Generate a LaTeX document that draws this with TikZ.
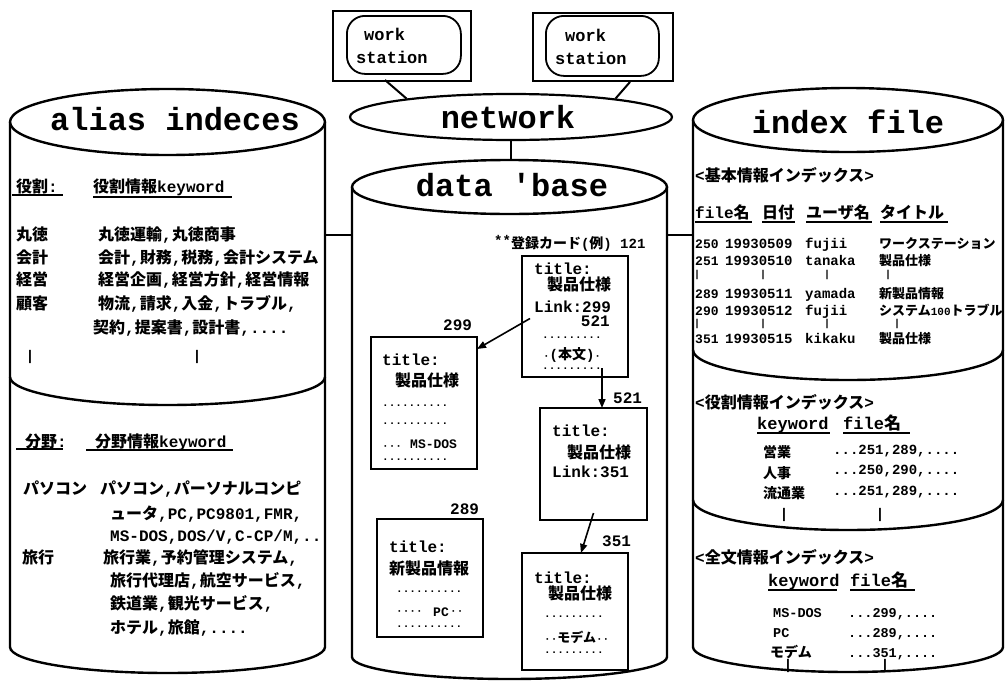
\documentclass[tikz,border=0pt]{standalone}
\usepackage{fontspec}
\setmainfont{Liberation Mono}
\newfontfamily\hdf{Liberation Mono}
\newfontfamily\jpf{Noto Sans CJK JP}
\newcommand\J[1]{{\jpf\bfseries #1}}
\newcommand\fs[1]{\fontsize{#1}{#1}\selectfont}
\usetikzlibrary{arrows.meta,calc,shapes.geometric}
\begin{document}
\begin{tikzpicture}[x=1pt,y=-1pt,
  cyl/.style={line width=2.4pt},
  ln/.style={line width=2pt},
  ul/.style={line width=1.5pt},
  card/.style={draw, line width=1.8pt, inner sep=0pt, outer sep=0pt, anchor=north west},
  arr/.style={line width=1.6pt, -{Triangle[length=9pt,width=7pt]}},
  tx/.style={anchor=base west, inner sep=0pt, yshift=-6pt, font=\fs{16}\bfseries},
  txe/.style={tx, anchor=base east},
  txc/.style={tx, anchor=base},
  sm/.style={anchor=base west, inner sep=0pt, yshift=-5pt, font=\fs{14}\bfseries},
  num/.style={sm, font=\fs{13}\bfseries},
  ttl/.style={sm, font=\fs{13}\bfseries},
  smc/.style={sm, font=\fs{13.5}\bfseries},
  hd/.style={tx, font=\fs{17}\bfseries},
  dt/.style={anchor=base west, inner sep=0pt, yshift=-1pt, text height=3pt, text depth=0pt, font=\fs{11}\bfseries},
  bar/.style={inner sep=0pt, font=\fs{14}\bfseries},
  sbar/.style={inner sep=0pt, font=\fs{10}\bfseries},
  big/.style={anchor=base, inner sep=0pt, font=\hdf\fs{32}\bfseries},
  ws/.style={anchor=base west, inner sep=0pt, font=\fs{17}\bfseries}
]
\useasboundingbox (0,0) rectangle (1005,683);

% ---------- workstations and network ----------
\node[draw, line width=1.8pt, minimum width=138pt, minimum height=70pt, anchor=north west, inner sep=0pt] (ws1) at (332,10) {};
\node[draw, line width=1.8pt, rounded corners=18pt, minimum width=114pt, minimum height=58pt, anchor=north west, inner sep=0pt] (ws1i) at (346,15) {};
\node[ws] (ws1a) at (364,40) {work};
\node[ws] (ws1b) at (356,63) {station};
\node[draw, line width=1.8pt, minimum width=140pt, minimum height=68pt, anchor=north west, inner sep=0pt] (ws2) at (532,12) {};
\node[draw, line width=1.8pt, rounded corners=18pt, minimum width=113pt, minimum height=60pt, anchor=north west, inner sep=0pt] (ws2i) at (545,15) {};
\node[ws] (ws2a) at (565,41) {work};
\node[ws] (ws2b) at (555,64) {station};

\node[draw, ellipse, line width=2.2pt, minimum width=322pt, minimum height=46pt, inner sep=0pt] (net) at (511,117) {};
\node[big] (netT) at (508,128) {network};
\coordinate (w1) at (385,80);
\coordinate (w2) at (630,82);
\draw[ln] (w1) -- (net.170);
\draw[ln] (w2) -- (net.10);

% ---------- left cylinder ----------
\draw[cyl] (167.5,122) ellipse[x radius=157.5, y radius=33];
\draw[cyl] (10,122) -- (10,647) arc[start angle=180, end angle=0, x radius=157.5, y radius=26] -- (325,122);
\draw[cyl] (10,377) arc[start angle=180, end angle=0, x radius=157.5, y radius=28];
\node[big] (hL) at (175,130) {alias indeces};

% ---------- middle cylinder ----------
\draw[cyl] (509.5,187) ellipse[x radius=157.5, y radius=27];
\draw[cyl] (352,187) -- (352,657) arc[start angle=180, end angle=0, x radius=157.5, y radius=22] -- (667,187);
\node[big] (hM) at (512,196) {data 'base};
\coordinate (dbt) at (509.5,160);
\draw[ln] (net.south) -- (net.south |- dbt);

% ---------- right cylinder ----------
\draw[cyl] (848,120) ellipse[x radius=155, y radius=32];
\draw[cyl] (693,120) -- (693,647) arc[start angle=180, end angle=0, x radius=155, y radius=25] -- (1003,120);
\draw[cyl] (693,350) arc[start angle=180, end angle=0, x radius=155, y radius=30];
\draw[cyl] (693,500) arc[start angle=180, end angle=0, x radius=155, y radius=30];
\node[big] (hR) at (848,133) {index file};

% ---------- connectors between cylinders ----------
\coordinate (Lr) at (325,235);
\coordinate (Ml) at (352,235);
\coordinate (Mr) at (667,235);
\coordinate (Rl) at (693,235);
\draw[ln] (Lr) -- (Ml);
\draw[ln] (Mr) -- (Rl);

% ---------- left cylinder texts ----------
\node[tx] (l1) at (16,186) {\J{役割}:};
\node[tx] (l2) at (93,186) {\J{役割情報}keyword};
\draw[ul] (12,195) -- (63,195);
\draw[ul] (93,197) -- (232,197);
\node[tx] at (16,234) {\J{丸徳}};
\node[tx] at (98,234) {\J{丸徳運輸},\J{丸徳商事}};
\node[tx] at (16,257) {\J{会計}};
\node[tx] at (98,257) {\J{会計},\J{財務},\J{税務},\J{会計システム}};
\node[tx] at (16,279) {\J{経営}};
\node[tx] at (98,279) {\J{経営企画},\J{経営方針},\J{経営情報}};
\node[tx] at (16,303) {\J{顧客}};
\node[tx] at (98,303) {\J{物流},\J{請求},\J{入金},\J{トラブル},};
\node[tx] at (93,327) {\J{契約},\J{提案書},\J{設計書},....};
\node[bar] at (30,357) {|};
\node[bar] at (197,357) {|};

\node[tx] (l3) at (25,441) {\J{分野}:};
\node[tx] (l4) at (95,441) {\J{分野情報}keyword};
\draw[ul] (16,449) -- (63,449);
\draw[ul] (86,450) -- (233,450);
\node[tx] at (23,488) {\J{パソコン}};
\node[tx] at (100,488) {\J{パソコン},\J{パーソナルコンピ}};
\node[tx] at (110,513) {\J{ュータ},PC,PC9801,FMR,};
\node[tx] at (110,535) {MS-DOS,DOS/V,C-CP/M,..};
\node[tx] at (22,557) {\J{旅行}};
\node[tx] at (103,557) {\J{旅行業},\J{予約管理システム},};
\node[tx] at (110,580) {\J{旅行代理店},\J{航空サービス},};
\node[tx] at (110,603) {\J{鉄道業},\J{観光サービス},};
\node[tx] at (110,627) {\J{ホテル},\J{旅館},....};

% ---------- data base cards ----------
\node[sm] (reg) at (494,243) {\raisebox{3pt}{**}\J{登録カード}(\J{例}) 121};

\node[card, minimum width=106pt, minimum height=121pt] (c121) at (522,256) {};
\node[tx] at (534,268) {title:};
\node[tx] at (547,284) {\J{製品仕様}};
\node[tx] at (534,306) {Link:299};
\node[txe] at (610,320) {521};
\node[dt] at (542,337) {.........};
\node[txc, font=\fs{14}\bfseries] at (572,353) {{\fs{11}·}(\J{本文}){\fs{11}·}};
\node[dt] at (542,368) {.........};

\node[tx] (n299) at (443,324) {299};
\node[card, minimum width=106pt, minimum height=132pt] (c299) at (371,337) {};
\node[tx] at (382,359) {title:};
\node[tx] at (395,380) {\J{製品仕様}};
\node[dt] at (382,405) {..........};
\node[dt] at (382,423) {..........};
\node[dt, yshift=-3pt] at (382,445) {···};
\node[anchor=base west, inner sep=0pt, font=\fs{13}\bfseries, text depth=0pt, yshift=-4pt] at (410,444) {MS-DOS};
\node[dt] at (382,459) {..........};

\node[tx] (n521) at (613,397) {521};
\node[card, minimum width=107pt, minimum height=112pt] (c521) at (540,408) {};
\node[tx] at (552,430) {title:};
\node[tx] at (567,452) {\J{製品仕様}};
\node[tx] at (552,471) {Link:351};

\node[tx] (n289) at (450,508) {289};
\node[card, minimum width=106pt, minimum height=118pt] (c289) at (377,519) {};
\node[tx] at (389,546) {title:};
\node[tx] at (389,568) {\J{新製品情報}};
\node[dt] at (396,591) {..........};
\node[dt, yshift=-4pt] at (396,609) {····};
\node[anchor=base west, inner sep=0pt, font=\fs{13}\bfseries, text depth=0pt, yshift=-4pt] at (433,612) {PC};
\node[dt, yshift=-4pt] at (450,609) {··};
\node[dt] at (396,626) {..........};

\node[tx] (n351) at (602,540) {351};
\node[card, minimum width=106pt, minimum height=117pt] (c351) at (522,553) {};
\node[tx] at (534,577) {title:};
\node[tx] at (548,593) {\J{製品仕様}};
\node[dt] at (544,616) {.........};
\node[anchor=base west, inner sep=0pt, yshift=-5pt, text depth=0pt, font=\fs{13}\bfseries] at (544,637) {{\fs{11}··}\J{モデム}{\fs{11}··}};
\node[dt] at (544,652) {.........};

\draw[arr] ($(c121.west)+(8,2)$) -- ($(c299.north east)+(0,12)$);
\draw[arr] ($(c121.south)+(27,-9)$) -- ($(c521.north)+(8.5,0)$);
\draw[arr] ($(c521.south)+(0,-7)$) -- ($(c351.north)+(6,0)$);

% ---------- right cylinder texts ----------
\node[tx] at (695,175) {<\J{基本情報インデックス}>};
\node[tx] at (695,212) {file\J{名}};
\node[tx] at (762,212) {\J{日付}};
\node[tx] at (806,212) {\J{ユーザ名}};
\node[tx] at (880,212) {\J{タイトル}};
\draw[ul] (695,222) -- (752,222);
\draw[ul] (762,222) -- (795,222);
\draw[ul] (806,222) -- (872,222);
\draw[ul] (880,222) -- (948,222);

\node[num] at (695,243) {250}; \node[sm] at (725,243) {19930509}; \node[sm] at (805,243) {fujii}; \node[ttl] at (879,243) {\J{ワークステーション}};
\node[num] at (695,260) {251}; \node[sm] at (725,260) {19930510}; \node[sm] at (805,260) {tanaka}; \node[ttl] at (879,260) {\J{製品仕様}};
\node[sbar] at (697,275) {|}; \node[sbar] at (763,275) {|}; \node[sbar] at (827,275) {|}; \node[sbar] at (888,275) {|};
\node[num] at (695,293) {289}; \node[sm] at (725,293) {19930511}; \node[sm] at (805,293) {yamada}; \node[ttl] at (879,293) {\J{新製品情報}};
\node[num] at (695,310) {290}; \node[sm] at (725,310) {19930512}; \node[sm] at (805,310) {fujii}; \node[ttl] at (879,310) {\J{システム}{\fs{11}100}\J{トラブル}};
\node[sbar] at (697,324) {|}; \node[sbar] at (763,324) {|}; \node[sbar] at (827,324) {|}; \node[sbar] at (897,324) {|};
\node[num] at (695,338) {351}; \node[sm] at (725,338) {19930515}; \node[sm] at (805,338) {kikaku}; \node[ttl] at (879,338) {\J{製品仕様}};

\node[tx] at (695,402) {<\J{役割情報インデックス}>};
\node[hd] at (757,423) {keyword};
\node[hd] at (843,423) {file\J{名}};
\draw[ul] (757,433) -- (830,433);
\draw[ul] (843,433) -- (910,433);
\node[sm] at (763,452) {\J{営業}}; \node[sm] at (833,449) {...251,289,....};
\node[sm] at (763,473) {\J{人事}}; \node[sm] at (833,469) {...250,290,....};
\node[sm] at (763,493) {\J{流通業}}; \node[sm] at (833,490) {...251,289,....};
\node[bar] at (784,515) {|}; \node[bar] at (880,515) {|};

\node[tx] at (695,557) {<\J{全文情報インデックス}>};
\node[hd] at (768,580) {keyword};
\node[hd] at (850,580) {file\J{名}};
\draw[ul] (768,590) -- (837,590);
\draw[ul] (850,590) -- (915,590);
\node[smc] at (773,612) {MS-DOS}; \node[smc] at (848,612) {...299,....};
\node[smc] at (773,632) {PC}; \node[smc] at (848,632) {...289,....};
\node[sm] at (770,652) {\J{モデム}}; \node[smc] at (848,652) {...351,....};
\node[bar] at (788,666) {|}; \node[bar] at (885,666) {|};
\end{tikzpicture}
\end{document}
